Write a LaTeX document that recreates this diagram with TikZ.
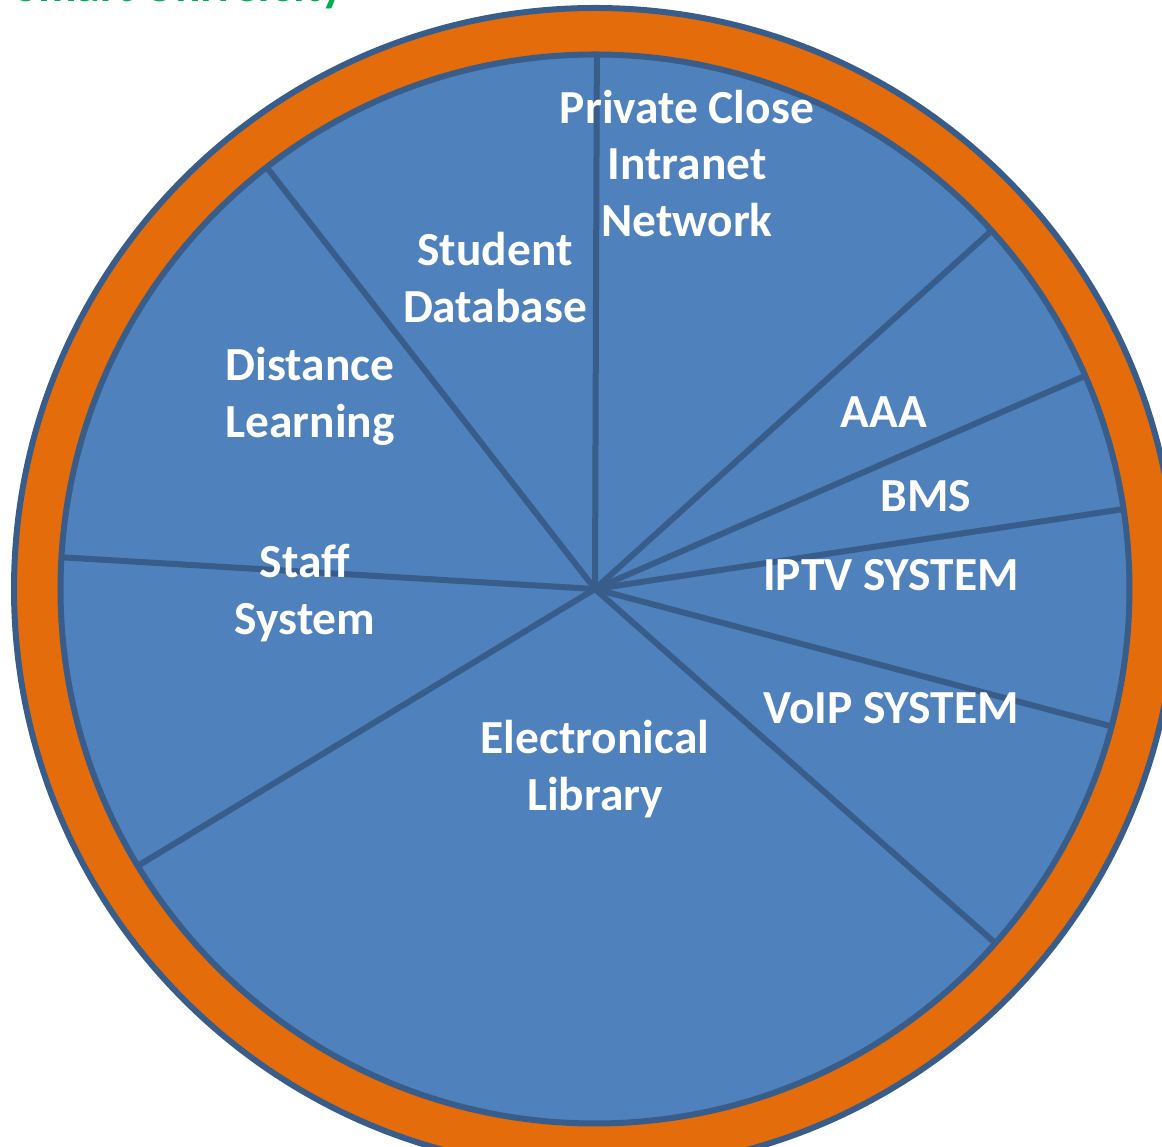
\documentclass[tikz,border=0pt]{standalone}
\usepackage{fontspec}
\setmainfont{Carlito}
\usetikzlibrary{positioning}
\definecolor{pieblue}{HTML}{4F81BD}
\definecolor{piedark}{HTML}{385D8A}
\definecolor{ringorange}{HTML}{E46C0A}
\definecolor{titlegreen}{HTML}{00B050}
\tikzset{
  lbl/.style={text=white,font=\bfseries\fontsize{13.5}{16.2}\selectfont,align=center,inner sep=0pt},
  spoke/.style={piedark,line width=0.06cm}
}

\begin{document}
\begin{tikzpicture}
\useasboundingbox (0,0) rectangle (11.62,-11.47);
\coordinate (o) at (5.95,-5.89);
% ring and disc
\draw[piedark,line width=0.06cm,fill=ringorange] (o) circle (5.81);
\draw[piedark,line width=0.06cm,fill=pieblue] (o) circle (5.345);
% spokes
\draw[spoke] (o) -- ++(89.8:5.345);
\draw[spoke] (o) -- ++(42.1:5.345);
\draw[spoke] (o) -- ++(23.5:5.345);
\draw[spoke] (o) -- ++(8.6:5.345);
\draw[spoke] (o) -- ++(-14.9:5.345);
\draw[spoke] (o) -- ++(-41.5:5.345);
\draw[spoke] (o) -- ++(211.2:5.345);
\draw[spoke] (o) -- ++(176.6:5.345);
\draw[spoke] (o) -- ++(127.9:5.345);
% labels
\node[lbl] (intranet) at (6.87,-1.635) {Private Close\\Intranet\\Network};
\node[lbl] (student) at (4.95,-2.775) {Student\\Database};
\node[lbl] (distance) at (3.10,-3.965) {Distance\\Learning};
\node[lbl] (aaa) at (8.84,-4.12) {AAA};
\node[lbl] (bms) at (9.26,-4.96) {BMS};
\node[lbl] (iptv) at (8.91,-5.75) {IPTV SYSTEM};
\node[lbl] (staff) at (3.05,-5.93) {Staff\\System};
\node[lbl] (voip) at (8.91,-7.08) {VoIP SYSTEM};
\node[lbl] (library) at (5.95,-7.695) {Electronical\\Library};
% title, cut by the page edge
\node[text=titlegreen,font=\bfseries\fontsize{13.5}{16.2}\selectfont,anchor=base west,inner sep=0pt] (title) at (0.15,-0.015) {Smart University};
\end{tikzpicture}
\end{document}
